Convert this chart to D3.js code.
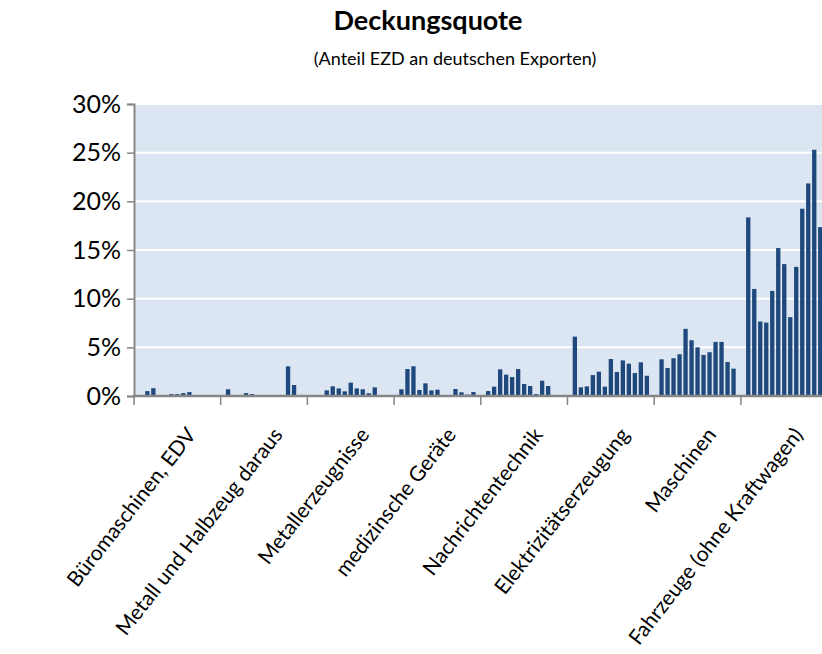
<!DOCTYPE html>
<html lang="de">
<head>
<meta charset="UTF-8" />
<title>Deckungsquote</title>
<script src="https://cdn.jsdelivr.net/npm/d3@7"></script>
<style>
  body { margin: 0; background: #fff; }
  text { font-family: Lato, "Open Sans", sans-serif; fill: #000; }
</style>
</head>
<body>
<svg width="822" height="654"></svg>
<script>
// Branchen (Gruppen) und je 13 Werte in Prozent
var branchen = [
  "Büromaschinen, EDV",
  "Metall und Halbzeug daraus",
  "Metallerzeugnisse",
  "medizinsche Geräte",
  "Nachrichtentechnik",
  "Elektrizitätserzeugung",
  "Maschinen",
  "Fahrzeuge (ohne Kraftwagen)"
];
var buero      = [0, 0.5, 0.8, 0, 0, 0.2, 0.2, 0.3, 0.4, 0.1, 0, 0, 0];
var metall     = [0.69, 0, 0, 0.3, 0.2, 0.05, 0, 0, 0, 0, 3.05, 1.13, 0];
var metallerz  = [0.1, 0, 0.58, 1.0, 0.78, 0.48, 1.37, 0.78, 0.69, 0.28, 0.89, 0, 0];
var medizin    = [0.69, 2.77, 3.05, 0.62, 1.3, 0.58, 0.65, 0.1, 0, 0.72, 0.38, 0.15, 0.41];
var nachricht  = [0.51, 0.96, 2.74, 2.19, 1.95, 2.77, 1.23, 1.03, 0.2, 1.57, 1.03, 0.1, 0];
var elektr     = [6.1, 0.89, 0.99, 2.15, 2.5, 0.96, 3.8, 2.46, 3.66, 3.32, 2.36, 3.46, 2.08];
var maschinen  = [3.77, 2.88, 3.88, 4.29, 6.9, 5.73, 5.0, 4.22, 4.5, 5.56, 5.56, 3.5, 2.81];
var fahrzeuge  = [18.35, 11.0, 7.65, 7.54, 10.8, 15.2, 13.55, 8.1, 13.27, 19.24, 21.84, 25.3, 17.35];
var yTicks = [0, 5, 10, 15, 20, 25, 30];

var reihen = [buero, metall, metallerz, medizin, nachricht, elektr, maschinen, fahrzeuge];
var data = [];
branchen.forEach(function (b, i) {
  reihen[i].forEach(function (v, j) {
    data.push({ gruppe: b, idx: j, wert: v });
  });
});

var svg = d3.select("svg");
var plotLeft = 134, plotTop = 104, plotBottom = 396;
var gw = 86.7; // Breite je Branche

var x0 = d3.scaleBand()
  .domain(branchen)
  .range([plotLeft, plotLeft + gw * branchen.length]);
var x1 = d3.scaleBand()
  .domain(d3.range(13))
  .range([0, x0.bandwidth()])
  .paddingInner(0.28)
  .paddingOuter(0.865);
var y = d3.scaleLinear().domain([0, 30]).range([plotBottom, plotTop]);

// Hintergrund Zeichenfläche
svg.append("rect")
  .attr("x", plotLeft)
  .attr("y", plotTop)
  .attr("width", x0.range()[1] - plotLeft)
  .attr("height", plotBottom - plotTop)
  .attr("fill", "#dce6f2");

// Gitterlinien
svg.append("g")
  .selectAll("line")
  .data(yTicks.slice(1))
  .enter()
  .append("line")
  .attr("x1", plotLeft)
  .attr("x2", x0.range()[1])
  .attr("y1", function (d) { return y(d); })
  .attr("y2", function (d) { return y(d); })
  .attr("stroke", "#fff")
  .attr("stroke-width", 2);

// Balken
svg.append("g")
  .selectAll("rect")
  .data(data)
  .enter()
  .append("rect")
  .attr("x", function (d) { return x0(d.gruppe) + x1(d.idx); })
  .attr("width", x1.bandwidth())
  .attr("y", function (d) { return y(d.wert); })
  .attr("height", function (d) { return plotBottom - y(d.wert); })
  .attr("fill", "#1f497d");

// y-Achse
var yAxis = d3.axisLeft(y)
  .tickValues(yTicks)
  .tickSize(7)
  .tickPadding(6)
  .tickFormat(function (d) { return d + "%"; });
var gy = svg.append("g")
  .attr("transform", "translate(" + plotLeft + ",0)")
  .call(yAxis);
gy.select(".domain").attr("stroke", "#868686").attr("stroke-width", 2);
gy.selectAll(".tick line").attr("stroke", "#868686").attr("stroke-width", 1.5);
gy.selectAll(".tick text")
  .style("font-size", "25px")
  .style("font-family", "Lato, 'Open Sans', sans-serif")
  .attr("fill", "#000");

// x-Achse mit Trennstrichen zwischen den Branchen
svg.append("line")
  .attr("x1", plotLeft - 1)
  .attr("x2", 822)
  .attr("y1", plotBottom)
  .attr("y2", plotBottom)
  .attr("stroke", "#868686")
  .attr("stroke-width", 2.5);
svg.append("g")
  .selectAll("line")
  .data(branchen)
  .enter()
  .append("line")
  .attr("x1", function (d) { return x0(d); })
  .attr("x2", function (d) { return x0(d); })
  .attr("y1", plotBottom)
  .attr("y2", plotBottom + 9)
  .attr("stroke", "#868686")
  .attr("stroke-width", 1.5);

svg.append("g")
  .selectAll("text")
  .data(branchen)
  .enter()
  .append("text")
  .attr("transform", function (d) {
    return "translate(" + (x0(d) + x0.bandwidth() / 2 + 8) + "," + (plotBottom + 30) + ") rotate(-52)";
  })
  .attr("text-anchor", "end")
  .attr("dy", "0.7em")
  .style("font-size", "21px")
  .text(function (d) { return d; });

// Titel
svg.append("text")
  .attr("x", 428)
  .attr("y", 30)
  .attr("text-anchor", "middle")
  .style("font-size", "27px")
  .style("font-weight", "bold")
  .text("Deckungsquote");
svg.append("text")
  .attr("x", 455)
  .attr("y", 65)
  .attr("text-anchor", "middle")
  .style("font-size", "18px")
  .text("(Anteil EZD an deutschen Exporten)");
</script>
</body>
</html>
